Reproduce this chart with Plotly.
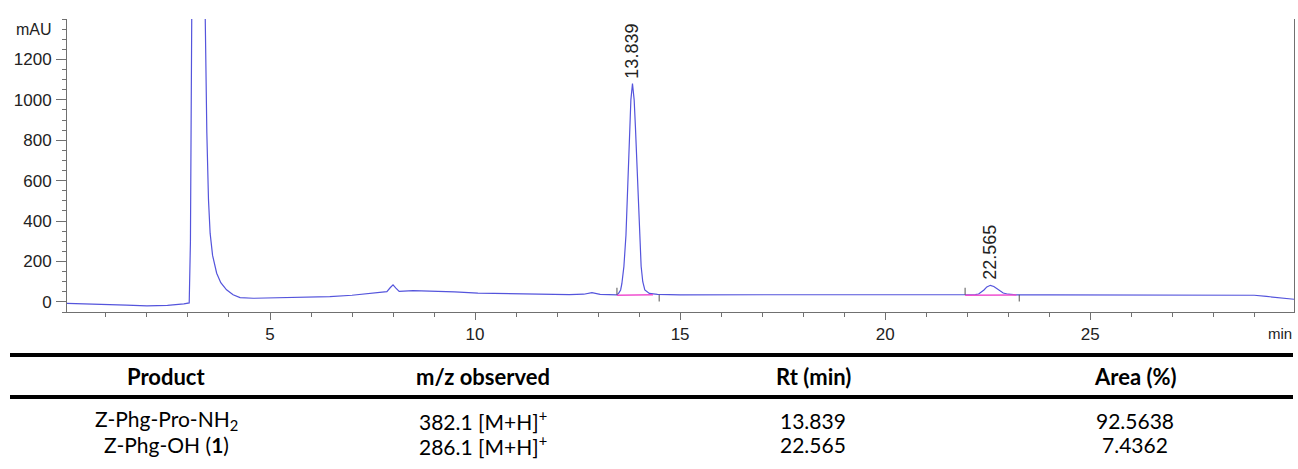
import plotly.graph_objects as go

# ---------------- chromatogram data ----------------
time_min = [0.05, 0.5, 1.0, 1.5, 2.0, 2.5, 2.9, 3.03, 3.06, 3.09, 3.12, 3.2, 3.3, 3.38, 3.42,
            3.46, 3.50, 3.54, 3.60, 3.70, 3.80, 3.94, 4.10, 4.27, 4.59, 5.0, 5.73, 6.46, 7.0,
            7.5, 7.85, 7.93, 8.0, 8.07, 8.15, 8.49, 9.0, 9.5, 10.07, 10.5, 11.0, 11.7, 12.3,
            12.65, 12.85, 13.05, 13.3, 13.46, 13.50, 13.55, 13.58, 13.63, 13.68, 13.74, 13.77,
            13.80, 13.839, 13.88, 13.91, 13.95, 13.99, 14.02, 14.05, 14.09, 14.14, 14.25, 14.45,
            15.0, 17.0, 19.0, 21.0, 22.0, 22.2, 22.28, 22.35, 22.41, 22.48, 22.565, 22.65,
            22.76, 22.88, 23.0, 23.2, 24.0, 25.5, 27.0, 28.6, 29.0, 29.3, 29.6, 29.97]
signal_mau = [-7, -9, -12, -16, -20, -17, -10, -5, 300, 1200, 2400, 3300, 2900, 2000, 1400,
              836, 506, 340, 230, 142, 95, 60, 35, 21, 18, 19, 21, 26, 33,
              42, 51, 70, 84, 68, 52, 56, 54, 50, 43, 41, 39, 38, 36,
              38, 46, 37, 35, 35, 42, 59, 90, 176, 330, 671, 850,
              1000, 1080, 1000, 870, 671, 480, 300, 176, 100, 59, 42, 37,
              35, 35, 35, 35, 35, 36, 39, 48, 59, 74, 82, 76,
              59, 44, 38, 35, 35, 34, 34, 35, 33, 27, 20, 13]

# integration baselines (pink) and event marks
base1_t = [13.46, 14.34]
base1_v = [33, 35]
base2_t = [21.95, 23.2]
base2_v = [33, 34]
event_t = [13.46, 14.49, 21.95, 23.27]
event_from = [35, 35, 35, 35]
event_to = [70, 2, 70, 2]

# peak labels
peak_rt = [13.839, 22.565]
peak_height = [1080, 84]
peak_text = ["13.839", "22.565"]

# axis ticks
x_tickvals = [5, 10, 15, 20, 25]
x_ticktext = ["5", "10", "15", "20", "25"]
y_tickvals = [0, 200, 400, 600, 800, 1000, 1200]

# ---------------- table data ----------------
table_header = ["Product", "m/z observed", "Rt (min)", "Area (%)"]
table_products = ["Z-Phg-Pro-NH<sub>2</sub>", "Z-Phg-OH (<b>1</b>)"]
table_mz = ["382.1 [M+H]<sup>+</sup>", "286.1 [M+H]<sup>+</sup>"]
table_rt = ["13.839", "22.565"]
table_area = ["92.5638", "7.4362"]

# ---------------- figure ----------------
W, H = 1298, 469
ML, MR, MT, MB = 67, 4, 19, 157
PW, PH = W - ML - MR, H - MT - MB

def px_x(px):
    return (px - ML) / PW

def px_y(py):
    return (H - MB - py) / PH

fig = go.Figure()
line_col = "#5454dc"
fig.add_trace(go.Scatter(x=time_min, y=signal_mau, mode="lines",
                         line=dict(color=line_col, width=1.2), hoverinfo="skip"))
for bt, bv in [(base1_t, base1_v), (base2_t, base2_v)]:
    fig.add_trace(go.Scatter(x=bt, y=bv, mode="lines",
                             line=dict(color="#f050d0", width=1.4), hoverinfo="skip"))
for t, a, b in zip(event_t, event_from, event_to):
    fig.add_trace(go.Scatter(x=[t, t], y=[a, b], mode="lines",
                             line=dict(color="#555555", width=1), hoverinfo="skip"))

tick_font = dict(family="Liberation Sans, Arial, sans-serif", size=17, color="#222222")

for rt, h, txt in zip(peak_rt, peak_height, peak_text):
    fig.add_annotation(x=rt, y=h, text=txt, showarrow=False, textangle=-90,
                       xanchor="center", yanchor="bottom", yshift=3,
                       font=dict(family="Liberation Sans, Arial, sans-serif", size=18, color="#222222"))

fig.add_annotation(x=0, xref="paper", y=1350, yref="y", text="mAU", showarrow=False,
                   xanchor="right", yanchor="middle", xshift=-13,
                   font=dict(family="Liberation Sans, Arial, sans-serif", size=16, color="#222222"))
fig.add_annotation(x=1, xref="paper", y=px_y(333), yref="paper", text="min", showarrow=False,
                   xanchor="right", yanchor="middle",
                   font=dict(family="Liberation Sans, Arial, sans-serif", size=15, color="#222222"))

# table rules
for py in [355, 397]:
    fig.add_shape(type="line", xref="paper", yref="paper", x0=px_x(10), x1=px_x(1293),
                  y0=px_y(py), y1=px_y(py), line=dict(color="black", width=4))

col_x = [166, 483, 813, 1135]
tab_font = "Lato, Carlito, Calibri, sans-serif"
for cx, hd in zip(col_x, table_header):
    fig.add_annotation(x=px_x(cx), y=px_y(376), xref="paper", yref="paper", text="<b>" + hd + "</b>",
                       showarrow=False, xanchor="center", yanchor="middle",
                       font=dict(family=tab_font, size=22, color="black"))
rows = list(zip(table_products, table_mz, table_rt, table_area))
for ry, row in zip([420, 445], rows):
    for cx, cell in zip(col_x, row):
        fig.add_annotation(x=px_x(cx), y=px_y(ry), xref="paper", yref="paper", text=cell,
                           showarrow=False, xanchor="center", yanchor="middle",
                           font=dict(family=tab_font, size=21, color="black"))

axis_col = "#707070"
fig.update_xaxes(range=[0.05, 29.97], showgrid=False, zeroline=False,
                 showline=True, linecolor=axis_col, linewidth=1, mirror=False,
                 ticks="outside", ticklen=7, tickcolor=axis_col, tickwidth=1,
                 tickmode="array", tickvals=x_tickvals, ticktext=x_ticktext,
                 tickfont=tick_font,
                 minor=dict(dtick=1, tick0=0, ticks="outside", ticklen=4,
                            tickcolor=axis_col, tickwidth=1, showgrid=False))
fig.update_yaxes(range=[-50, 1400], showgrid=False, zeroline=False,
                 showline=True, linecolor=axis_col, linewidth=1, mirror=True,
                 ticks="outside", ticklen=10, tickcolor=axis_col, tickwidth=1,
                 tickmode="array", tickvals=y_tickvals, tickfont=tick_font,
                 ticklabelstandoff=1,
                 minor=dict(dtick=50, tick0=0, ticks="outside", ticklen=4,
                            tickcolor=axis_col, tickwidth=1, showgrid=False))

fig.update_layout(width=W, height=H, margin=dict(l=ML, r=MR, t=MT, b=MB),
                  plot_bgcolor="white", paper_bgcolor="white", showlegend=False)

fig.write_html("out.html", config={"displayModeBar": False},
               post_script="document.body.style.margin='0px';document.body.style.overflow='hidden';")
